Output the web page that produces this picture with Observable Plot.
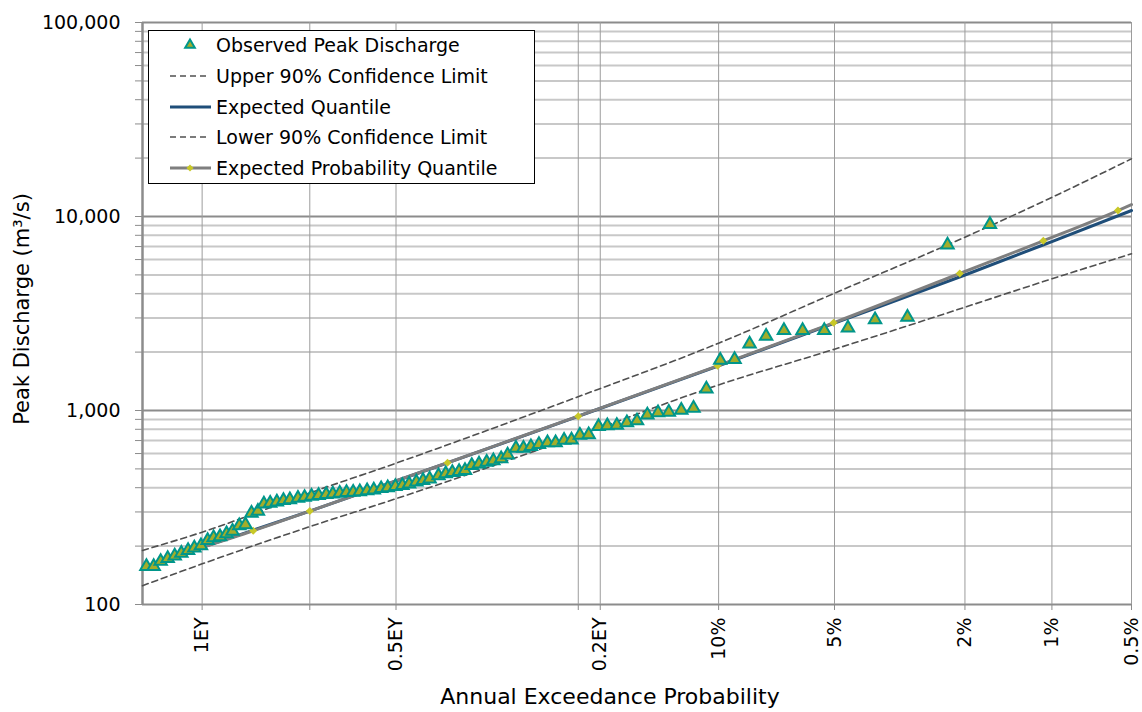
<!DOCTYPE html>
<html><head><meta charset="utf-8">
<script src="https://cdn.jsdelivr.net/npm/d3@7"></script>
<script src="https://cdn.jsdelivr.net/npm/@observablehq/plot@0.6"></script>
<style>body{margin:0;background:#fff;}</style>
</head><body><div id="chart"></div>
<script>
// ---- data (AEP as fraction, discharge in m3/s) ----
const observedAEP = [0.6957,0.6877,0.6799,0.6720,0.6640,0.6564,0.6486,0.6413,0.6335,0.6256,0.6185,0.6108,0.6029,0.5957,0.5875,0.5799,0.5725,0.5646,0.5572,0.5494,0.5411,0.5329,0.5249,
0.5148,0.5065,0.4978,0.4890,0.4795,0.4712,0.4626,0.4542,0.4459,0.4377,0.4287,0.4205,0.4115,0.4035,0.3942,0.3858,0.3778,0.3692,0.3613,0.3536,
0.3433,0.3350,0.3275,0.3199,0.3133,0.3058,0.2979,0.2896,0.2825,0.2743,0.2676,0.2591,0.2515,0.2441,0.2363,0.2281,0.2205,0.2127,0.2060,
0.1986,0.1910,0.1827,0.1755,0.1679,0.1601,0.1525,0.1450,0.1375,0.1302,0.1221,0.1145,0.1069,
0.0991,0.0915,0.0840,0.0763,0.0686,0.0612,0.0534,0.0458,0.0382,0.0305,0.0228,0.0165];
const observedQ = [157,157,167,173,178,184,190,196,201,214,221,224,232,239,255,258,296,303,330,333,338,344,347,
353,357,362,365,369,372,375,378,379,382,386,390,396,400,406,411,418,428,436,444,
462,472,479,485,491,521,531,541,552,564,591,639,639,652,668,682,682,704,705,
747,750,829,836,839,866,885,948,974,980,1004,1028,1291,
1819,1836,2207,2415,2585,2585,2585,2662,2938,3027,7131,9094];

const upperAEP = [0.7,0.6321,0.5,0.3935,0.209,0.1,0.05,0.02,0.01,0.005];
const upperQ   = [190,236,376,535,1127,2223,4023,7823,12550,19835];
const lowerAEP = [0.7,0.6321,0.5,0.3935,0.2,0.1,0.05,0.02,0.01,0.005];
const lowerQ   = [125,162,252,351,742,1355,2070,3408,4775,6424];
const expectedAEP = [0.6321,0.5,0.333,0.2,0.1,0.05,0.02,0.01,0.005];
const expectedQ   = [197,303,537,934,1700,2820,4995,7430,10737];
const epqAEP = [0.6321,0.5704,0.5,0.333,0.2,0.1006,0.0503,0.0208,0.01074,0.00565,0.005];
const epqQ   = [197,240,303,538,935,1700,2832,5084,7494,10737,11530];
const epqMarkerAEP = [0.5704,0.5,0.333,0.2,0.1006,0.0503,0.0208,0.01074,0.00565];
const epqMarkerQ   = [240,303,538,935,1700,2832,5084,7494,10737];

const xTickAEP    = [0.63212,0.5,0.39347,0.2,0.18127,0.1,0.05,0.02,0.01,0.005];
const xTickLabels = ["1EY","","0.5EY","","0.2EY","10%","5%","2%","1%","0.5%"];
const xDomainAEP  = [0.7,0.005];
const yMajor = [100,1000,10000,100000];
const yMinorMult = [2,3,4,5,6,7,8,9];
const legendLabels = ["Observed Peak Discharge","Upper 90% Confidence Limit","Expected Quantile","Lower 90% Confidence Limit","Expected Probability Quantile"];

// ---- helpers ----
function invNorm(p){
  const a=[-3.969683028665376e+01,2.209460984245205e+02,-2.759285104469687e+02,1.383577518672690e+02,-3.066479806614716e+01,2.506628277459239e+00];
  const b=[-5.447609879822406e+01,1.615858368580409e+02,-1.556989798598866e+02,6.680131188771972e+01,-1.328068155288572e+01];
  const c=[-7.784894002430293e-03,-3.223964580411365e-01,-2.400758277161838e+00,-2.549732539343734e+00,4.374664141464968e+00,2.938163982698783e+00];
  const d=[7.784695709041462e-03,3.224671290700398e-01,2.445134137142996e+00,3.754408661907416e+00];
  const pl=0.02425, ph=1-pl; let q,r;
  if(p<pl){q=Math.sqrt(-2*Math.log(p));return (((((c[0]*q+c[1])*q+c[2])*q+c[3])*q+c[4])*q+c[5])/((((d[0]*q+d[1])*q+d[2])*q+d[3])*q+1);}
  if(p<=ph){q=p-0.5;r=q*q;return (((((a[0]*r+a[1])*r+a[2])*r+a[3])*r+a[4])*r+a[5])*q/(((((b[0]*r+b[1])*r+b[2])*r+b[3])*r+b[4])*r+1);}
  q=Math.sqrt(-2*Math.log(1-p));return -(((((c[0]*q+c[1])*q+c[2])*q+c[3])*q+c[4])*q+c[5])/((((d[0]*q+d[1])*q+d[2])*q+d[3])*q+1);
}
const zOf = p => invNorm(1 - p);
const pairs = (A,Q) => A.map((p,i)=>({z:zOf(p), q:Q[i]}));

const obs = pairs(observedAEP, observedQ);
const upper = pairs(upperAEP, upperQ);
const lower = pairs(lowerAEP, lowerQ);
const expected = pairs(expectedAEP, expectedQ);
const epq = pairs(epqAEP, epqQ);
const epqM = pairs(epqMarkerAEP, epqMarkerQ);
const yMinor = yMajor.slice(0,3).flatMap(k => yMinorMult.map(m => m*k));
const xTicks = xTickAEP.map(zOf);
const labelMap = new Map(xTicks.map((z,i)=>[z, xTickLabels[i]]));

const C = {tri:"#a3ad2a", triStroke:"#00968a", dash:"#505050", blue:"#1f4e79", gray:"#7f7f7f", diamond:"#c8c828"};
const triR = 4.6, diaR = 3.6;

const chart = Plot.plot({
  width:1142, height:712,
  marginLeft:142, marginRight:11, marginTop:22, marginBottom:108,
  style:{fontFamily:"DejaVu Sans", fontSize:"19px", color:"#000", background:"#fff", overflow:"visible"},
  x:{type:"linear", domain:xDomainAEP.map(zOf)},
  y:{type:"log", domain:[100,100000]},
  marks:[
    Plot.ruleY(yMinor, {stroke:"#c8c8c8", strokeWidth:2}),
    Plot.ruleY(yMajor, {stroke:"#8c8c8c", strokeWidth:2}),
    Plot.ruleX(xTicks, {stroke:"#9c9c9c", strokeWidth:1}),
    Plot.ruleX([zOf(0.7)], {stroke:"#8c8c8c", strokeWidth:2.5}),
    Plot.axisY({ticks:[...yMajor, ...yMinor], tickSize:7, tickPadding:15, stroke:"#8c8c8c",
      tickFormat:d => yMajor.includes(d) ? d3.format(",")(d) : "", label:null, fontSize:19}),
    Plot.axisX({ticks:xTicks, tickFormat:d => labelMap.get(d) ?? "", tickRotate:-90, tickSize:6, tickPadding:7,
      stroke:"#8c8c8c", label:null, fontSize:19}),
    Plot.line(upper, {x:"z", y:"q", stroke:C.dash, strokeWidth:1.6, strokeDasharray:"6,4", curve:"monotone-x"}),
    Plot.line(lower, {x:"z", y:"q", stroke:C.dash, strokeWidth:1.6, strokeDasharray:"6,4", curve:"monotone-x"}),
    Plot.line(expected, {x:"z", y:"q", stroke:C.blue, strokeWidth:3, curve:"monotone-x"}),
    Plot.line(epq, {x:"z", y:"q", stroke:C.gray, strokeWidth:3, curve:"monotone-x"}),
    Plot.dot(epqM, {x:"z", y:"q", symbol:"diamond2", r:diaR, fill:C.diamond, stroke:"none"}),
    Plot.dot(obs, {x:"z", y:"q", symbol:"triangle", r:triR, fill:C.tri, stroke:C.triStroke, strokeWidth:2})
  ]
});
document.getElementById("chart").appendChild(chart);

// ---- titles & legend ----
const svg = d3.select(chart);
svg.append("text").attr("transform","translate(29,309) rotate(-90)").attr("text-anchor","middle")
  .style("font-size","21px").attr("fill","#000").text("Peak Discharge (m³/s)");
svg.append("text").attr("x",610).attr("y",704).attr("text-anchor","middle")
  .style("font-size","22px").attr("fill","#000").text("Annual Exceedance Probability");

const lg = svg.append("g");
lg.append("rect").attr("x",148.5).attr("y",30.5).attr("width",386).attr("height",153)
  .attr("fill","#fff").attr("stroke","#000").attr("stroke-width",1);
const rowsY = [45,76,107,137,168];
rowsY.forEach((y,i)=>{
  lg.append("text").attr("x",216).attr("y",y).attr("dy","0.36em").attr("text-anchor","start")
    .style("font-size","19px").attr("fill","#000").text(legendLabels[i]);
});
lg.append("path").attr("transform",`translate(190,${rowsY[0]})`).attr("d",d3.symbol(d3.symbolTriangle, Math.PI*3.6*3.6)())
  .attr("fill",C.tri).attr("stroke",C.triStroke).attr("stroke-width",2);
[1,3].forEach(i=>lg.append("line").attr("x1",170).attr("x2",210).attr("y1",rowsY[i]).attr("y2",rowsY[i])
  .attr("stroke",C.dash).attr("stroke-width",1.6).attr("stroke-dasharray","6,4"));
lg.append("line").attr("x1",170).attr("x2",211).attr("y1",rowsY[2]).attr("y2",rowsY[2]).attr("stroke",C.blue).attr("stroke-width",3);
lg.append("line").attr("x1",170).attr("x2",211).attr("y1",rowsY[4]).attr("y2",rowsY[4]).attr("stroke",C.gray).attr("stroke-width",3);
lg.append("path").attr("transform",`translate(190,${rowsY[4]})`).attr("d",d3.symbol(d3.symbolDiamond2, Math.PI*3.2*3.2)())
  .attr("fill",C.diamond);
</script></body></html>
